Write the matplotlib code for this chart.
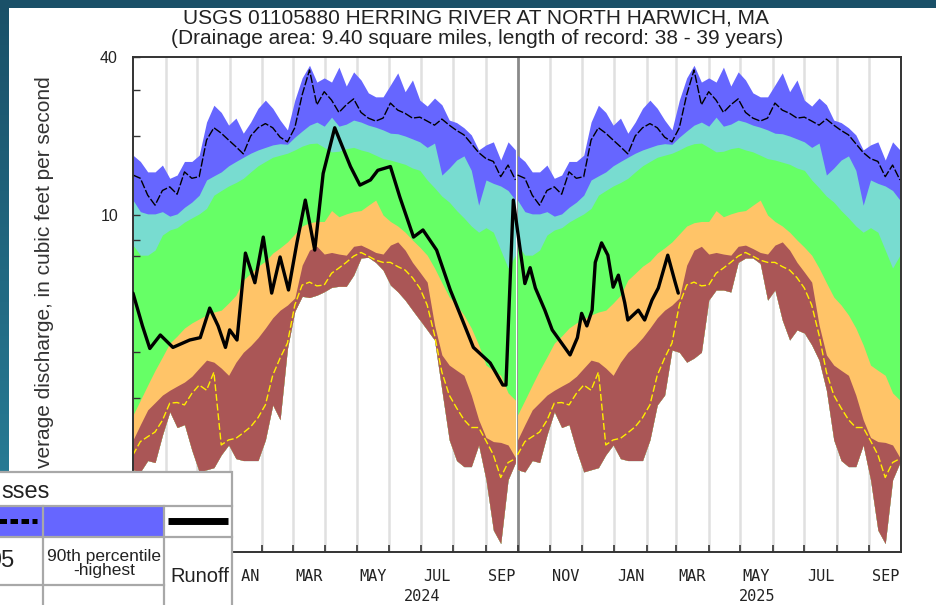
import datetime as dt
import numpy as np
import matplotlib
matplotlib.use('Agg')
import matplotlib.pyplot as plt
import matplotlib.dates as mdates
import matplotlib.transforms as mtransforms
from matplotlib.colors import LinearSegmentedColormap
from matplotlib.patches import Rectangle
from matplotlib.ticker import FixedLocator, FixedFormatter, NullFormatter

plt.rcParams['font.family'] = ['Liberation Sans', 'DejaVu Sans']

W, H = 936, 605

# ============ DATA ============
WY_START = [dt.date(2023, 10, 1), dt.date(2024, 10, 1)]

# daily discharge percentiles by day of water year (read every 7 days), cfs
clim_day = list(range(0, 365, 7))
q_max = [16.9, 16.0, 14.6, 14.6, 15.5, 13.8, 14.2, 16.0, 16.0, 16.9,
         22.6, 26.2, 24.6, 22.0, 23.4, 20.5, 22.6, 25.5, 27.4, 25.5,
         23.0, 21.1, 27.4, 33.3, 37.2, 32.1, 33.3, 32.1, 36.6, 31.0,
         35.1, 32.7, 29.2, 28.2, 28.2, 31.3, 34.8, 29.5, 32.7, 27.4,
         26.0, 27.9, 26.3, 23.0, 22.5, 21.5, 20.2, 17.7, 18.5, 19.0,
         16.2, 19.0, 17.7]
q_p95 = [14.2, 13.8, 11.9, 10.9, 12.4, 12.8, 12.0, 14.6, 13.8, 14.0,
         19.3, 21.5, 20.5, 19.3, 18.2, 17.1, 20.0, 21.5, 22.3, 21.5,
         19.8, 19.0, 21.5, 28.7, 35.7, 26.3, 29.5, 27.4, 24.6, 26.3,
         27.7, 24.6, 23.4, 22.8, 23.4, 26.7, 25.1, 24.4, 23.4, 23.6,
         22.8, 22.0, 23.2, 22.0, 21.0, 20.2, 18.7, 17.3, 16.4, 16.0,
         14.0, 15.5, 13.6]
q_p90 = [11.4, 10.3, 10.1, 10.1, 10.3, 9.9, 10.1, 10.7, 11.2, 11.9,
         13.6, 14.1, 14.6, 15.4, 16.0, 16.6, 17.2, 17.7, 18.1, 18.5,
         18.7, 18.6, 19.8, 20.9, 22.0, 22.6, 21.8, 23.6, 21.8, 22.2,
         23.0, 22.6, 22.0, 21.6, 21.1, 20.5, 20.4, 20.0, 19.5, 19.0,
         18.1, 18.8, 14.2, 15.1, 16.2, 16.8, 14.8, 10.9, 13.6, 13.2,
         12.9, 12.4, 11.4]
q_p75 = [7.68, 7.03, 7.03, 7.35, 8.39, 8.77, 8.95, 9.4, 9.75, 10.1,
         10.6, 11.9, 12.4, 12.9, 13.3, 13.8, 14.6, 15.4, 16.0, 16.6,
         16.9, 17.2, 17.7, 18.3, 18.7, 18.8, 18.1, 17.4, 17.5, 17.9,
         18.1, 17.7, 17.4, 16.9, 16.4, 16.2, 15.9, 15.6, 15.1, 14.8,
         13.6, 12.7, 11.8, 11.2, 10.4, 9.75, 9.08, 8.6, 8.95, 8.6,
         7.35, 6.28, 7.03]
q_p25 = [1.73, 1.97, 2.25, 2.56, 2.88, 3.25, 3.46, 3.71, 3.88, 4.02,
         4.16, 4.27, 4.34, 4.62, 4.95, 5.65, 6.0, 6.38, 6.67, 7.16,
         7.5, 7.9, 8.47, 9.08, 9.35, 9.45, 9.45, 10.4, 9.85, 10.1,
         10.3, 10.4, 10.9, 11.4, 10.0, 9.45, 9.08, 8.6, 8.03, 7.54,
         7.03, 6.28, 5.52, 4.87, 4.54, 4.16, 3.71, 3.2, 2.68, 2.56,
         2.45, 2.1, 1.97]
q_p10 = [1.39, 1.59, 1.81, 1.93, 2.06, 2.15, 2.23, 2.31, 2.43, 2.61,
         2.8, 2.75, 2.61, 2.45, 2.75, 3.0, 3.18, 3.41, 3.71, 4.06,
         4.34, 4.54, 4.83, 6.44, 7.35, 7.6, 7.1, 7.2, 7.1, 7.03,
         7.6, 7.68, 7.45, 7.2, 7.1, 7.68, 7.9, 7.35, 6.6, 6.06,
         5.55, 3.81, 2.93, 2.68, 2.56, 2.45, 2.06, 1.66, 1.42, 1.37,
         1.36, 1.33, 1.19]
q_p05 = [1.22, 1.37, 1.43, 1.49, 1.65, 1.92, 1.93, 1.89, 2.09, 2.25,
         2.15, 2.52, 1.33, 1.39, 1.41, 1.48, 1.56, 1.69, 1.89, 2.45,
         2.85, 3.25, 4.54, 5.41, 5.55, 5.37, 5.41, 6.0, 6.28, 6.6,
         6.97, 7.2, 6.97, 6.73, 6.6, 6.6, 6.36, 6.17, 5.77, 5.27,
         4.54, 3.49, 2.52, 2.06, 1.84, 1.66, 1.55, 1.55, 1.38, 1.22,
         1.0, 1.14, 1.18]
# minimum differs between the two water years (38 vs 39 years of record)
q_min_wy2024 = [1.07, 1.05, 1.16, 1.14, 1.45, 1.78, 1.55, 1.59, 1.27, 1.05,
                1.07, 1.09, 1.22, 1.33, 1.18, 1.16, 1.16, 1.16, 1.39, 1.89,
                1.66, 3.1, 4.3, 4.9, 4.85, 4.95, 5.1, 5.3, 5.35, 5.35,
                5.9, 6.86, 6.9, 6.6, 6.17, 5.41, 5.1, 4.74, 4.34, 3.98,
                3.65, 3.34, 2.15, 1.39, 1.16, 1.1, 1.1, 1.33, 0.98, 0.63,
                0.56, 0.98, 1.14]
q_min_wy2025 = [1.07, 1.05, 1.16, 1.14, 1.45, 1.78, 1.55, 1.59, 1.27, 1.05,
                1.07, 1.09, 1.22, 1.33, 1.18, 1.16, 1.16, 1.16, 1.39, 1.89,
                2.06, 3.06, 3.0, 2.75, 2.85, 3.0, 4.74, 5.18, 5.18, 5.09,
                6.6, 6.86, 6.86, 6.54, 4.74, 5.18, 3.98, 3.34, 3.65, 3.55,
                3.2, 2.8, 2.15, 1.39, 1.16, 1.1, 1.1, 1.33, 0.98, 0.63,
                0.56, 0.98, 1.14]

# current runoff, days since 2023-10-01, cfs
runoff_day = [0, 9, 16, 26, 38, 54, 64, 73, 81, 88,
              92, 99, 107, 116, 124, 132, 140, 148, 156, 164,
              173, 181, 192, 207, 216, 226, 233, 245, 254, 267,
              276, 289, 302, 311, 324, 340, 352, 355, 362, 373,
              378, 383, 392, 399, 416, 423, 427, 432, 437, 440,
              446, 452, 457, 462, 468, 471, 481, 487, 494, 500,
              509, 516, 519]
runoff_cfs = [5.04, 3.78, 3.10, 3.49, 3.13, 3.34, 3.41, 4.42, 3.78, 3.13,
              3.65, 3.34, 7.16, 5.52, 8.24, 5.04, 6.92, 5.18, 7.83, 11.4,
              7.35, 14.4, 21.5, 15.3, 13.0, 13.6, 14.8, 15.3, 11.7, 8.24,
              8.77, 7.35, 5.18, 4.22, 3.13, 2.73, 2.25, 2.25, 11.4, 5.48,
              6.3, 5.27, 4.34, 3.65, 2.93, 3.41, 4.22, 3.78, 4.34, 6.6,
              7.83, 7.03, 5.31, 5.9, 4.64, 3.98, 4.34, 3.98, 4.74, 5.27,
              7.03, 5.55, 5.04]

MONTHS = ['JAN', 'FEB', 'MAR', 'APR', 'MAY', 'JUN',
          'JUL', 'AUG', 'SEP', 'OCT', 'NOV', 'DEC']

# colours
C_BLUE = '#6666ff'
C_CYAN = '#78dcd0'
C_GREEN = '#66ff66'
C_ORANGE = '#ffc468'
C_BROWN = '#aa5656'
C_YELLOW = '#ffee00'


def dnum(d):
    return mdates.date2num(d)


def next_month(d):
    return dt.date(d.year + d.month // 12, d.month % 12 + 1, 1)


fig = plt.figure(figsize=(W / 100, H / 100), dpi=100)

# ============ SCREENSHOT FRAME ============
bg = fig.add_axes([0, 0, 1, 1], zorder=-10)
teal = LinearSegmentedColormap.from_list('teal', ['#1a5068', '#2a86a0'])
bg.imshow(np.linspace(0, 1, 200).reshape(-1, 1), extent=[0, W, H, 0],
          aspect='auto', cmap=teal)
bg.add_patch(Rectangle((9, 8), W, H, facecolor='white', lw=0))
bg.set_xlim(0, W)
bg.set_ylim(H, 0)
bg.axis('off')

# ============ MAIN PLOT ============
ax = fig.add_axes([133 / W, 1 - 552 / H, 768 / W, 495 / H])

m_starts = []
d = dt.date(2023, 11, 1)
while d < dt.date(2025, 10, 1):
    m_starts.append(d)
    d = next_month(d)

for d in m_starts:
    if d == dt.date(2024, 10, 1):
        ax.axvline(dnum(d), color='#8a8a8a', lw=2.0, zorder=0.5)
    else:
        ax.axvline(dnum(d), color='#e0e0e0', lw=1.8, zorder=0.5)

for start, q_min in zip(WY_START, [q_min_wy2024, q_min_wy2025]):
    xs = [dnum(start + dt.timedelta(days=k)) for k in clim_day]
    ax.fill_between(xs, q_min, q_max, color=C_BLUE, lw=0, zorder=1.0)
    ax.fill_between(xs, q_min, q_p90, color=C_CYAN, lw=0, zorder=1.1)
    ax.fill_between(xs, q_min, q_p75, color=C_GREEN, lw=0, zorder=1.2)
    ax.fill_between(xs, q_min, q_p25, color=C_ORANGE, lw=0, zorder=1.3)
    ax.fill_between(xs, q_min, q_p10, color=C_BROWN, lw=0, zorder=1.4)
    ax.plot(xs, q_p95, color='black', lw=1.0, ls=(0, (6, 1.5)), zorder=2)
    ax.plot(xs, q_p05, color=C_YELLOW, lw=1.0, ls=(0, (5, 2)), zorder=2)

rx = [dnum(WY_START[0] + dt.timedelta(days=k)) for k in runoff_day]
ax.plot(rx, runoff_cfs, color='black', lw=2.4, solid_joinstyle='round',
        solid_capstyle='round', zorder=3)

ax.set_xlim(dnum(dt.date(2023, 10, 1)), dnum(dt.date(2025, 10, 1)))
ax.set_yscale('log')
ax.set_ylim(0.52, 40)
ax.yaxis.set_major_locator(FixedLocator([10, 40]))
ax.yaxis.set_major_formatter(FixedFormatter(['10', '40']))
ax.yaxis.set_minor_locator(FixedLocator([1, 2, 3, 7, 8, 20, 30]))
ax.yaxis.set_minor_formatter(NullFormatter())
ax.tick_params(axis='y', which='both', direction='in', length=5, width=1,
               color='#333333', labelcolor='#222222', labelsize=11.5,
               pad=10.8, right=False)

ax.set_xticks([dnum(d) for d in m_starts])
ax.set_xticklabels([])
ax.tick_params(axis='x', which='major', direction='in', length=5, width=1.2,
               color='#333333', top=False)
ax.xaxis.set_minor_locator(FixedLocator([]))

for sp in ax.spines.values():
    sp.set_color('#333333')
    sp.set_linewidth(1.4)

# month and year labels (the ones under the legend box are not drawn)
trans = mtransforms.blended_transform_factory(ax.transData, ax.transAxes)
d = dt.date(2024, 1, 1)
while d < dt.date(2025, 10, 1):
    nd = next_month(d)
    if d.month % 2 == 1:
        ax.text((dnum(d) + dnum(nd)) / 2, -0.0485, MONTHS[d.month - 1],
                transform=trans, ha='center', va='center', fontsize=11,
                family='DejaVu Sans Mono', color='#222222')
    d = nd
for yr in (2024, 2025):
    a = dt.date(yr, 1, 1)
    b = min(dt.date(yr + 1, 1, 1), dt.date(2025, 10, 1))
    ax.text((dnum(a) + dnum(b)) / 2, -0.0905, str(yr), transform=trans,
            ha='center', va='center', fontsize=11, family='DejaVu Sans Mono',
            color='#222222')

# titles
fig.text(476 / W, 1 - 18 / H, 'USGS 01105880 HERRING RIVER AT NORTH HARWICH, MA',
         ha='center', va='center', fontsize=15, color='#222222')
fig.text(477 / W, 1 - 39 / H,
         '(Drainage area: 9.40 square miles, length of record: 38 - 39 years)',
         ha='center', va='center', fontsize=15, color='#222222')
# y label: only the part above the legend box is on screen
fig.text(45 / W, 1 - 468 / H, 'verage discharge, in cubic feet per second',
         rotation=90, ha='center', va='bottom', fontsize=15, color='#333333')

# ============ LEGEND (partly off screen) ============
ov = fig.add_axes([0, 0, 1, 1], zorder=20)
ov.set_xlim(0, W)
ov.set_ylim(H, 0)
ov.axis('off')
EDGE = '#a8a8a8'
ov.add_patch(Rectangle((230, 556), 11, 60, facecolor='white', lw=0))
ov.add_patch(Rectangle((-20, 472), 252, 160, facecolor='white', edgecolor=EDGE, lw=1.6))
ov.add_patch(Rectangle((-20, 507), 63, 30, facecolor=C_BLUE, lw=0))
ov.add_patch(Rectangle((44, 507), 120, 30, facecolor=C_BLUE, lw=0))
for yy, xr in [(506, 232), (537, 232), (585, 164)]:
    ov.plot([-20, xr], [yy, yy], color=EDGE, lw=1.6)
for xx in (43, 164):
    ov.plot([xx, xx], [506, 620], color=EDGE, lw=1.6)
ov.plot([-10, 37], [521, 521], color='black', lw=3.6, ls=(0, (1.5, 0.7)))
ov.plot([168, 228], [521, 521], color='black', lw=5, solid_capstyle='butt')
ov.text(1, 498, 'sses', ha='left', va='baseline', fontsize=17, color='#222222')
ov.text(15, 567, '95', ha='right', va='baseline', fontsize=17, color='#222222')
ov.text(104, 556, '90th percentile', ha='center', va='center', fontsize=12.5,
        color='#222222')
ov.text(104, 570, '-highest', ha='center', va='center', fontsize=12.5,
        color='#222222')
ov.text(200, 577, 'Runoff', ha='center', va='center', fontsize=14.5,
        color='#222222')

fig.savefig('out.png', dpi=100)
